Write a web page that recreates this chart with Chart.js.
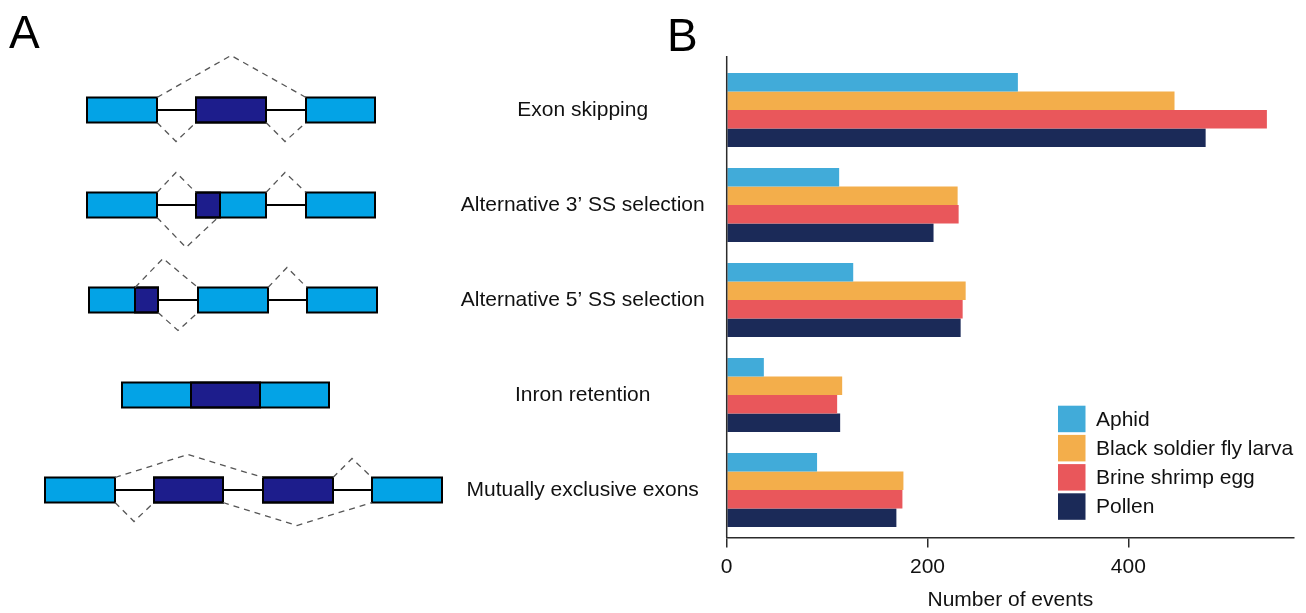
<!DOCTYPE html>
<html>
<head>
<meta charset="utf-8">
<script src="https://cdn.jsdelivr.net/npm/chart.js@4.4.1/dist/chart.umd.min.js"></script>
<style>
    html, body { margin: 0; padding: 0; background: #fff; }
    #wrap { width: 1306px; height: 613px; }
</style>
</head>
<body>
<div id="wrap"><canvas id="chart" width="1306" height="613"></canvas></div>
<script>
// Data - number of splicing events per sample
const eventTypes = ['Exon skipping', 'Alternative 3’ SS selection', 'Alternative 5’ SS selection', 'Inron retention', 'Mutually exclusive exons'];
const aphid = [290, 112, 126, 37, 90];
const blackSoldierFly = [446, 230, 238, 115, 176];
const brineShrimp = [538, 231, 235, 110, 175];
const pollen = [477, 206, 233, 113, 169];
const xTicks = [0, 200, 400];
const seriesNames = ['Aphid', 'Black soldier fly larva', 'Brine shrimp egg', 'Pollen'];

const FONT = '"Liberation Sans", Arial, Helvetica, sans-serif';
const seriesColors = ['#41abd9', '#f3ae4b', '#e9575b', '#1b2a58'];
const axisColor = '#2b2b2b';
const exonLight = '#03a3e6';
const exonDark = '#1d1d8c';

// Panel A schematics, one per event type (x in px, junction rise in px)
const schematics = [
    {
        exons: [[87, 157, null], [196, 266, [196, 266]], [306, 375, null]],
        above: [[157, 231, 306, 42]],
        below: [[157, 176, 196, 19], [266, 285, 306, 19]]
    },
    {
        exons: [[87, 157, null], [196, 266, [196, 220]], [306, 375, null]],
        above: [[157, 176, 196, 20], [266, 285, 306, 20]],
        below: [[157, 186, 218, 30]]
    },
    {
        exons: [[89, 158, [135, 158]], [198, 268, null], [307, 377, null]],
        above: [[135, 163, 198, 29], [268, 287, 307, 20]],
        below: [[158, 178, 198, 18]]
    },
    {
        exons: [[122, 329, [191, 260]]],
        above: [],
        below: []
    },
    {
        exons: [[45, 115, null], [154, 223, [154, 223]], [263, 333, [263, 333]], [372, 442, null]],
        above: [[115, 188, 263, 23], [333, 352, 372, 19]],
        below: [[115, 134, 154, 19], [223, 297, 372, 23]]
    }
];

// Draws panel A, panel letters, the legend and the raised y axis line
const figurePlugin = {
    id: 'figureExtras',
    afterDraw(chart) {
        const ctx = chart.ctx;
        const area = chart.chartArea;
        const yScale = chart.scales.y;
        const half = 12.5;

        ctx.save();

        // y axis line, sticks out a bit above the bars
        ctx.strokeStyle = axisColor;
        ctx.lineWidth = 1.5;
        ctx.beginPath();
        ctx.moveTo(area.left, area.top - 6.5);
        ctx.lineTo(area.left, area.bottom);
        ctx.stroke();

        // panel letters
        ctx.fillStyle = '#000';
        ctx.font = '46px ' + FONT;
        ctx.textBaseline = 'alphabetic';
        ctx.textAlign = 'left';
        ctx.fillText('A', 9, 48);
        ctx.fillText('B', 667, 51);

        // exon / intron schematics aligned with the categories
        schematics.forEach((row, i) => {
            const cy = yScale.getPixelForValue(i);
            const top = cy - half;
            const bottom = cy + half;

            // introns
            ctx.strokeStyle = '#000';
            ctx.lineWidth = 1.8;
            ctx.setLineDash([]);
            for (let k = 0; k < row.exons.length - 1; k++) {
                ctx.beginPath();
                ctx.moveTo(row.exons[k][1], cy);
                ctx.lineTo(row.exons[k + 1][0], cy);
                ctx.stroke();
            }

            // exons
            row.exons.forEach(([x0, x1, dark]) => {
                ctx.fillStyle = exonLight;
                ctx.fillRect(x0, top, x1 - x0, half * 2);
                if (dark) {
                    ctx.fillStyle = exonDark;
                    ctx.fillRect(dark[0], top, dark[1] - dark[0], half * 2);
                    ctx.strokeStyle = '#000';
                    ctx.lineWidth = 2;
                    ctx.strokeRect(dark[0], top, dark[1] - dark[0], half * 2);
                }
                ctx.strokeStyle = '#000';
                ctx.lineWidth = 2;
                ctx.strokeRect(x0, top, x1 - x0, half * 2);
            });

            // splice junctions
            ctx.strokeStyle = '#555';
            ctx.lineWidth = 1.3;
            ctx.setLineDash([6, 5]);
            const junction = ([a, peak, b, rise], edge, dir) => {
                ctx.beginPath();
                ctx.moveTo(a, edge);
                ctx.lineTo(peak, edge + dir * rise);
                ctx.lineTo(b, edge);
                ctx.stroke();
            };
            row.above.forEach(j => junction(j, top, -1));
            row.below.forEach(j => junction(j, bottom, 1));
            ctx.setLineDash([]);
        });

        // legend inside the plot, bottom right
        const boxX = 1058;
        const boxW = 27.5;
        const rowTop = 405.7;
        const rowStep = 29.2;
        const boxH = 26.5;
        ctx.font = '21px ' + FONT;
        ctx.textBaseline = 'middle';
        ctx.textAlign = 'left';
        chart.data.datasets.forEach((ds, i) => {
            const y = rowTop + i * rowStep;
            ctx.fillStyle = ds.backgroundColor;
            ctx.fillRect(boxX, y, boxW, boxH);
            ctx.fillStyle = '#111';
            ctx.fillText(ds.label, boxX + 38, y + boxH / 2 + 1);
        });

        ctx.restore();
    }
};

const seriesValues = [aphid, blackSoldierFly, brineShrimp, pollen];

const ctx = document.getElementById('chart').getContext('2d');
const chart = new Chart(ctx, {
    type: 'bar',
    data: {
        labels: eventTypes,
        datasets: seriesNames.map((name, i) => ({
            label: name,
            data: seriesValues[i],
            backgroundColor: seriesColors[i],
            borderWidth: 0,
            categoryPercentage: 0.78,
            barPercentage: 1.0
        }))
    },
    options: {
        indexAxis: 'y',
        responsive: false,
        animation: false,
        layout: {
            padding: { left: 446.7, right: 12, top: 62.5, bottom: 0 }
        },
        plugins: {
            legend: { display: false },
            tooltip: { enabled: false }
        },
        scales: {
            x: {
                type: 'linear',
                min: 0,
                max: 565,
                afterBuildTicks: scale => {
                    scale.ticks = xTicks.map(v => ({ value: v }));
                },
                afterFit: scale => { scale.height = 75.5; },
                grid: {
                    display: true,
                    drawOnChartArea: false,
                    drawTicks: true,
                    tickLength: 10,
                    color: axisColor,
                    lineWidth: 1.5
                },
                border: { display: true, color: axisColor, width: 1.5 },
                ticks: {
                    padding: 7,
                    color: '#111',
                    font: { family: FONT, size: 21 }
                },
                title: {
                    display: true,
                    text: 'Number of events',
                    color: '#111',
                    padding: { top: 0, bottom: 0 },
                    font: { family: FONT, size: 21 }
                }
            },
            y: {
                type: 'category',
                afterFit: scale => { scale.width = 280; },
                grid: { display: false },
                border: { display: false },
                ticks: {
                    crossAlign: 'center',
                    padding: 14,
                    color: '#111',
                    font: { family: FONT, size: 21 }
                }
            }
        }
    },
    plugins: [figurePlugin]
});
</script>
</body>
</html>
